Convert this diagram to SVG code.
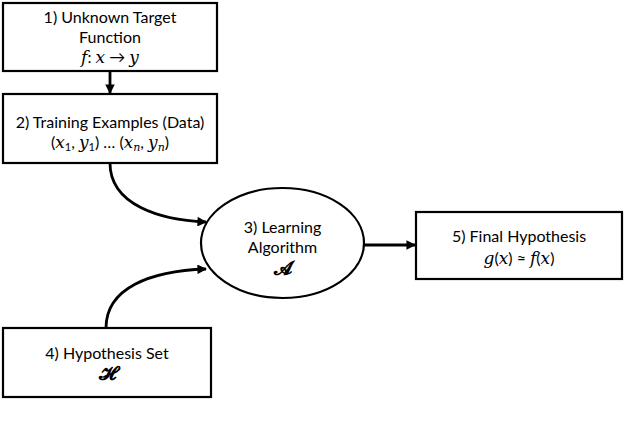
<svg xmlns="http://www.w3.org/2000/svg" width="626" height="424" viewBox="0 0 626 424">
<defs>
<marker id="ah" viewBox="0 0 10 10" refX="9" refY="5" markerWidth="3.6" markerHeight="3.4" orient="auto" markerUnits="strokeWidth">
<path d="M0,0 L10,5 L0,10 Z" fill="#000"/>
</marker>
<style>
.box{fill:#fff;stroke:#000;stroke-width:2.2}
.t{font-family:Lato,"Open Sans","Noto Sans",sans-serif;font-size:16px;text-anchor:middle;fill:#000}
.m{font-family:"DejaVu Serif","Liberation Serif",serif;font-style:italic;font-size:17px}
.s{font-size:19px;font-weight:bold}
.c{fill:none;stroke:#000;stroke-width:2.8;marker-end:url(#ah)}
</style>
</defs>
<rect width="626" height="424" fill="#fff"/>
<g id="connectors">
<path class="c" d="M110,71 L110,93"/>
<path class="c" d="M110,163 C110,205 160,220 206,222"/>
<path class="c" d="M106,328 C106,288 150,271 206,269"/>
<path class="c" d="M364,245 L415,245"/>
</g>
<g id="n1">
<rect class="box" x="3" y="3" width="214" height="68"/>
<text class="t" x="110" y="23">1) Unknown Target</text>
<text class="t" x="110" y="43">Function</text>
<text class="t" x="110" y="63"><tspan class="m">f</tspan>: <tspan class="m">x</tspan> → <tspan class="m">y</tspan></text>
</g>
<g id="n2">
<rect class="box" x="3" y="94" width="214" height="69"/>
<text class="t" x="110" y="128">2) Training Examples (Data)</text>
<text class="t" x="110" y="148">(<tspan class="m">x</tspan><tspan font-size="11" dy="3">1</tspan><tspan dy="-3">, </tspan><tspan class="m">y</tspan><tspan font-size="11" dy="3">1</tspan><tspan dy="-3">) … (</tspan><tspan class="m">x</tspan><tspan font-size="11" class="m" dy="3" style="font-size:11px">n</tspan><tspan dy="-3">, </tspan><tspan class="m">y</tspan><tspan class="m" dy="3" style="font-size:11px">n</tspan><tspan dy="-3">)</tspan></text>
</g>
<g id="n3">
<ellipse class="box" cx="282.5" cy="243" rx="81.5" ry="55"/>
<text class="t" x="282.5" y="233">3) Learning</text>
<text class="t" x="282.5" y="253">Algorithm</text>
<text class="t s" x="282.5" y="275">𝓐</text>
</g>
<g id="n4">
<rect class="box" x="3" y="328" width="208" height="69"/>
<text class="t" x="107" y="359">4) Hypothesis Set</text>
<text class="t s" x="107" y="380">𝓗</text>
</g>
<g id="n5">
<rect class="box" x="416" y="212" width="206" height="67"/>
<text class="t" x="519" y="242">5) Final Hypothesis</text>
<text class="t" x="519" y="264"><tspan class="m">g</tspan>(<tspan class="m">x</tspan>) ≈ <tspan class="m">f</tspan>(<tspan class="m">x</tspan>)</text>
</g>
</svg>
